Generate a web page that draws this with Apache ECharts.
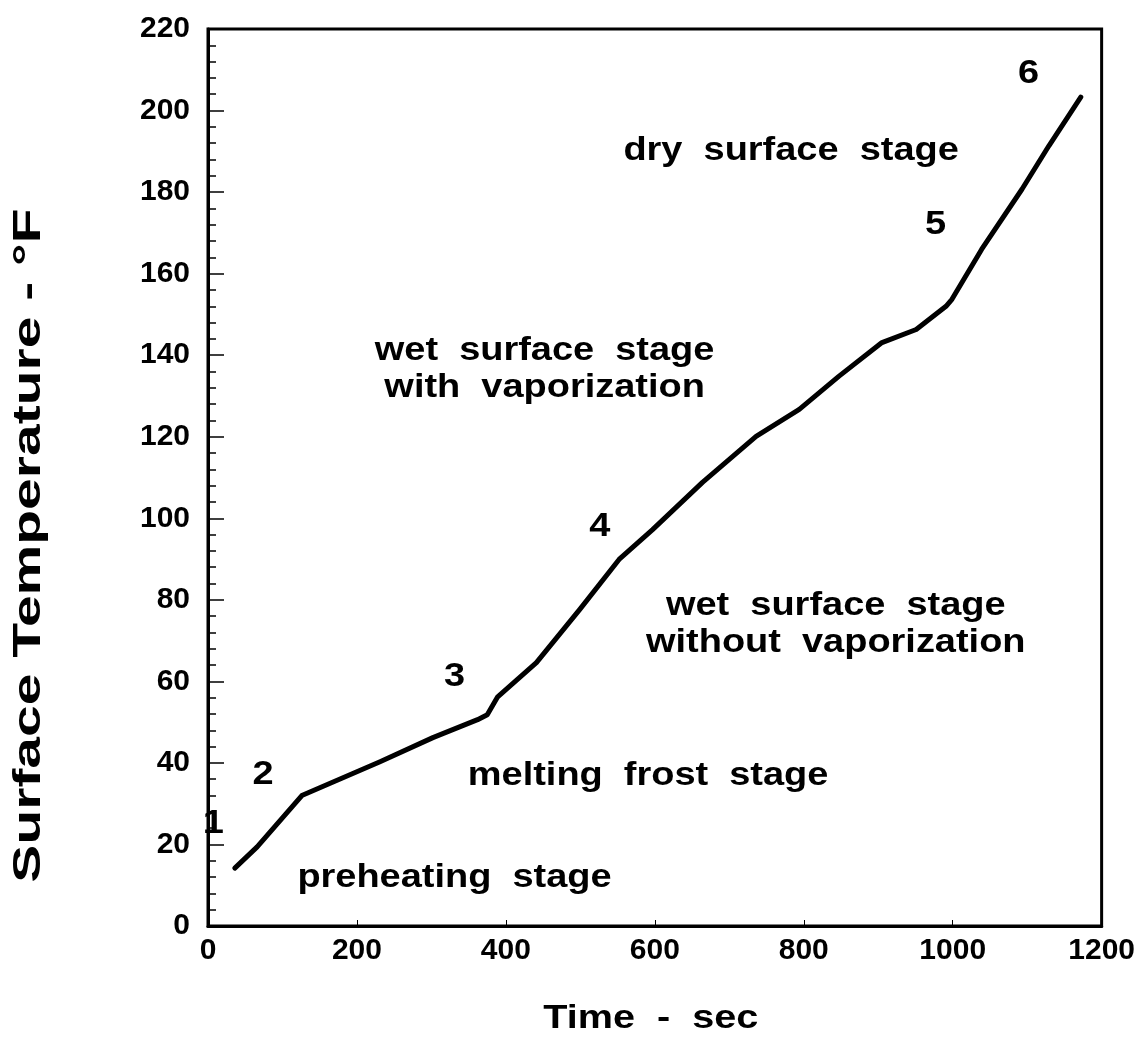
<!DOCTYPE html>
<html><head><meta charset="utf-8">
<script src="https://cdn.jsdelivr.net/npm/echarts@6/dist/echarts.min.js"></script>
<style>html,body{margin:0;padding:0;background:#fff}#c{width:1138px;height:1047px}</style>
</head><body><div id="c"></div>
<script>
// Surface temperature curve (time in sec, temperature in °F)
const timeSec = [36, 66, 126, 231, 302, 362, 375, 389, 441, 499, 552, 597, 664, 736, 794, 847, 905, 951, 991, 999, 1039, 1093, 1129, 1172];
const tempF   = [14.2, 19.4, 32.0, 40.3, 46.2, 50.6, 51.8, 56.2, 64.6, 77.6, 89.9, 97.2, 108.8, 120.1, 126.7, 134.8, 143.1, 146.3, 152.0, 153.7, 166.0, 180.7, 191.3, 203.3];
// annotations: text, time, temp (anchor = text centre)
const noteText = ['1', '2', '3', '4', '5', '6', 'preheating  stage', 'melting  frost  stage', 'wet  surface  stage\nwithout  vaporization', 'wet  surface  stage\nwith  vaporization', 'dry  surface  stage'];
const noteX    = [7, 74, 331, 526, 977, 1102, 331, 591, 843, 452, 783];
const noteY    = [25, 37, 61, 98, 172, 209, 11.8, 36.8, 74, 136.5, 190];
const xTicks = [0, 200, 400, 600, 800, 1000, 1200];
const yTicks = [0, 20, 40, 60, 80, 100, 120, 140, 160, 180, 200, 220];
const xTitle = 'Time  -  sec';
const yTitle = 'Surface Temperature - °F';

const FONT = '"Liberation Sans", Arial, sans-serif';
const chart = echarts.init(document.getElementById('c'));
chart.setOption({
  animation: false,
  backgroundColor: '#fff',
  grid: { left: 208, right: 35, top: 29, bottom: 121, show: true, borderColor: '#000', borderWidth: 3, backgroundColor: 'transparent' },
  xAxis: {
    type: 'value', min: xTicks[0], max: xTicks[xTicks.length - 1], interval: 200,
    axisLine: { show: true, lineStyle: { color: '#000', width: 3 } },
    axisTick: { show: true, inside: true, length: 6, lineStyle: { color: '#000', width: 1 } },
    axisLabel: { fontFamily: FONT, fontSize: 30, color: '#000', margin: 10, fontWeight: 'bold', formatter: v => String(v) },
    splitLine: { show: false }
  },
  yAxis: {
    type: 'value', min: yTicks[0], max: yTicks[yTicks.length - 1], interval: 20,
    axisLine: { show: true, lineStyle: { color: '#000', width: 3 } },
    axisTick: { show: true, inside: true, length: 16, lineStyle: { color: '#000', width: 1.5 } },
    minorTick: { show: true, splitNumber: 5, length: 8, lineStyle: { color: '#000', width: 1.5 } },
    axisLabel: { fontFamily: FONT, fontSize: 30, color: '#000', margin: 18, fontWeight: 'bold', formatter: v => String(v) },
    splitLine: { show: false }
  },
  series: [
    {
      type: 'line', data: timeSec.map((t, i) => [t, tempF[i]]),
      showSymbol: false, smooth: false,
      lineStyle: { color: '#000', width: 5, cap: 'round', join: 'round' }
    }
  ]
});

// Text annotations, anchored through the chart's own scales, stretched horizontally like the scan
function textEl(text, x, y, size, sx, rot) {
  return {
    type: 'text', x: x, y: y, scaleX: sx, rotation: rot || 0, silent: true, z: 10,
    style: { text: text, x: 0, y: 0, fill: '#000', font: 'bold ' + size + 'px ' + FONT,
             align: 'center', verticalAlign: 'middle', textAlign: 'center', textVerticalAlign: 'middle', lineHeight: 37 }
  };
}
const els = noteText.map((s, i) => {
  const p = chart.convertToPixel({ gridIndex: 0 }, [noteX[i], noteY[i]]);
  return textEl(s, p[0], p[1], 33, 1.15);
});
const gx = chart.getModel().getComponent('grid', 0).coordinateSystem.getRect();
els.push(textEl(xTitle, gx.x + gx.width / 2 - 4, gx.y + gx.height + 93, 33, 1.2));
els.push(textEl(yTitle, 30, gx.y + gx.height / 2 + 68, 38, 1.5, Math.PI / 2));
chart.setOption({ graphic: { elements: els } });
</script></body></html>
